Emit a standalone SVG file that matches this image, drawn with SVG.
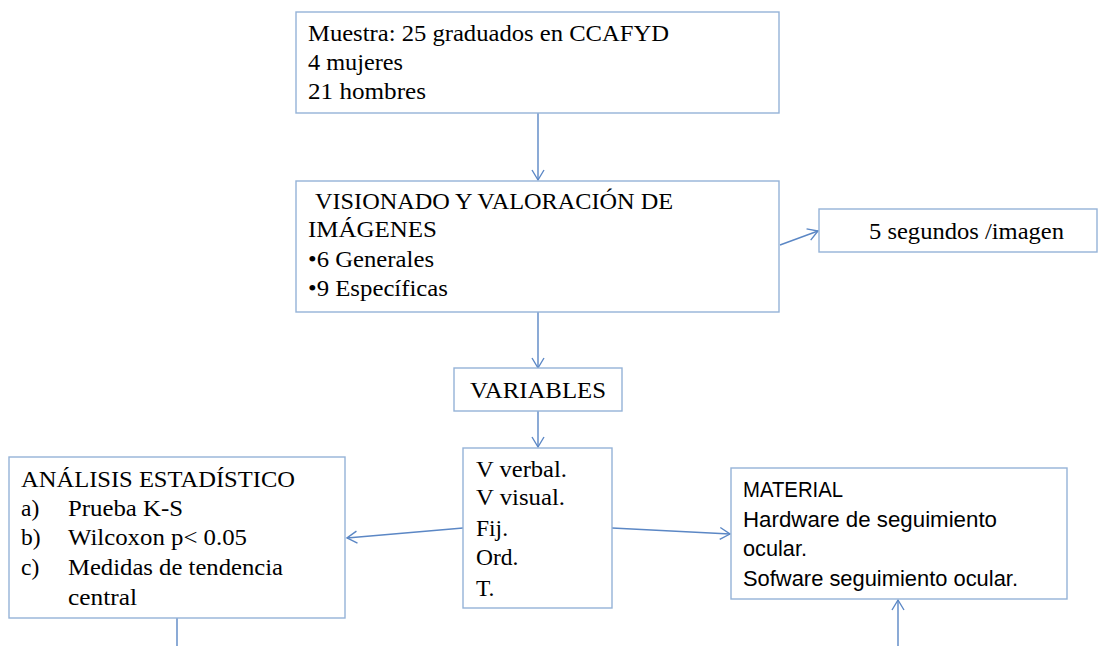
<svg xmlns="http://www.w3.org/2000/svg" width="1104" height="646" viewBox="0 0 1104 646">
<style>
.box{fill:#ffffff;stroke:#95B3D7;stroke-width:1.4}
.t{font-family:"Liberation Serif","Times New Roman",serif;font-size:23.5px;fill:#000}
.s{font-family:"Liberation Sans",Arial,sans-serif;font-size:22px;fill:#000}
.c{fill:none;stroke:#5B87C5;stroke-width:1.4}
</style>
<defs>
<marker id="ah" markerUnits="userSpaceOnUse" markerWidth="14" markerHeight="14" refX="11" refY="7" orient="auto">
<path d="M1,1 L11,7 L1,13" fill="none" stroke="#5B87C5" stroke-width="1.4"/>
</marker>
</defs>
<rect width="1104" height="646" fill="#ffffff"/>
<g id="connectors">
<line class="c" x1="538" y1="113" x2="538" y2="180" marker-end="url(#ah)"/>
<line class="c" x1="780" y1="245" x2="818" y2="231" marker-end="url(#ah)"/>
<line class="c" x1="538" y1="312" x2="538" y2="368" marker-end="url(#ah)"/>
<line class="c" x1="538" y1="411" x2="538" y2="447" marker-end="url(#ah)"/>
<line class="c" x1="463" y1="528" x2="347" y2="538" marker-end="url(#ah)"/>
<line class="c" x1="612" y1="528" x2="730" y2="534" marker-end="url(#ah)"/>
<line class="c" x1="177" y1="618" x2="177" y2="646"/>
<line class="c" x1="898" y1="646" x2="898" y2="600" marker-end="url(#ah)"/>
</g>
<g id="muestra">
<rect class="box" x="296" y="12" width="483" height="101"/>
<text class="t" x="308" y="41" textLength="361" lengthAdjust="spacingAndGlyphs">Muestra: 25 graduados en CCAFYD</text>
<text class="t" x="308" y="70" textLength="95" lengthAdjust="spacingAndGlyphs">4 mujeres</text>
<text class="t" x="308" y="99" textLength="118" lengthAdjust="spacingAndGlyphs">21 hombres</text>
</g>
<g id="visionado">
<rect class="box" x="296" y="181" width="483" height="131"/>
<text class="t" x="315" y="209" textLength="358" lengthAdjust="spacingAndGlyphs">VISIONADO Y VALORACIÓN DE</text>
<text class="t" x="308" y="237" textLength="129" lengthAdjust="spacingAndGlyphs">IMÁGENES</text>
<text class="t" x="308" y="267" textLength="126" lengthAdjust="spacingAndGlyphs">•6 Generales</text>
<text class="t" x="308" y="296" textLength="140" lengthAdjust="spacingAndGlyphs">•9 Específicas</text>
</g>
<g id="segundos">
<rect class="box" x="819" y="209" width="278" height="43"/>
<text class="t" x="869" y="239" textLength="195" lengthAdjust="spacingAndGlyphs">5 segundos /imagen</text>
</g>
<g id="variables">
<rect class="box" x="454" y="368" width="168" height="43"/>
<text class="t" x="470" y="398" textLength="136" lengthAdjust="spacingAndGlyphs">VARIABLES</text>
</g>
<g id="lista">
<rect class="box" x="463" y="448" width="149" height="160"/>
<text class="t" x="476" y="477" textLength="91" lengthAdjust="spacingAndGlyphs">V verbal.</text>
<text class="t" x="476" y="505" textLength="89" lengthAdjust="spacingAndGlyphs">V visual.</text>
<text class="t" x="476" y="536">Fij.</text>
<text class="t" x="476" y="565">Ord.</text>
<text class="t" x="476" y="596">T.</text>
</g>
<g id="analisis">
<rect class="box" x="9" y="457" width="336" height="161"/>
<text class="t" x="21" y="487" textLength="274" lengthAdjust="spacingAndGlyphs">ANÁLISIS ESTADÍSTICO</text>
<text class="t" x="21" y="516">a)</text>
<text class="t" x="68" y="516" textLength="115" lengthAdjust="spacingAndGlyphs">Prueba K-S</text>
<text class="t" x="21" y="545">b)</text>
<text class="t" x="68" y="545" textLength="179" lengthAdjust="spacingAndGlyphs">Wilcoxon p&lt; 0.05</text>
<text class="t" x="21" y="575">c)</text>
<text class="t" x="68" y="575" textLength="215" lengthAdjust="spacingAndGlyphs">Medidas de tendencia</text>
<text class="t" x="68" y="605" textLength="69" lengthAdjust="spacingAndGlyphs">central</text>
</g>
<g id="material">
<rect class="box" x="731" y="468" width="336" height="131"/>
<text class="s" x="743" y="497" textLength="100" lengthAdjust="spacingAndGlyphs">MATERIAL</text>
<text class="s" x="743" y="527" textLength="254" lengthAdjust="spacingAndGlyphs">Hardware de seguimiento</text>
<text class="s" x="743" y="556" textLength="64" lengthAdjust="spacingAndGlyphs">ocular.</text>
<text class="s" x="743" y="586" textLength="275" lengthAdjust="spacingAndGlyphs">Sofware seguimiento ocular.</text>
</g>
</svg>
